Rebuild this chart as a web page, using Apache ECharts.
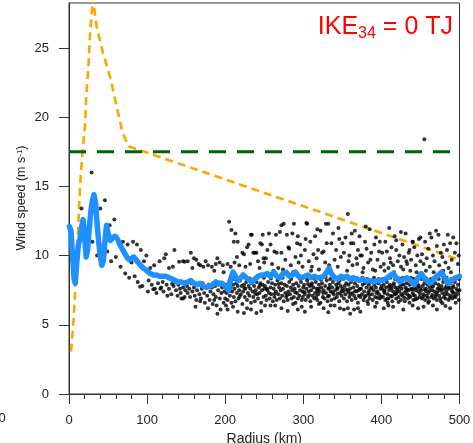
<!DOCTYPE html>
<html>
<head>
<meta charset="utf-8">
<script src="https://cdn.jsdelivr.net/npm/echarts@6/dist/echarts.min.js"></script>
<style>html,body{margin:0;padding:0;background:#fff}#c{width:473px;height:443px}</style>
</head>
<body>
<div id="c"></div>
<script>
// ---- data ----
const xTicks = [0, 100, 200, 300, 400, 500];
const yTicks = [0, 5, 10, 15, 20, 25];
const threshold34 = 17.5;           // 34-kt wind threshold (m/s)
const ikeLabel = ['IKE', '34', ' = 0 TJ'];
const yName = 'Wind speed (m s{sup|-1})';

// radial profile (orange dashed)
const profileR = [2.6, 5.5, 7.7, 9, 10.7, 14.1, 17.5, 20.5, 21.8, 24.8, 27, 29, 30.5, 35.5, 43.7, 52.6, 61, 68, 76, 500];
const profileV = [3.06, 5.1, 7.15, 9.2, 10.6, 15.0, 17.6, 19.4, 21.2, 23.6, 26.1, 27.5, 28.6, 26.5, 24.6, 22.9, 20.8, 19.0, 17.9, 9.7];

// azimuthal-mean wind (blue)
const meanR = [0.5,2.5,4.5,6.5,8,10,12,14,16,18,20,22,24,26,28,30,32,34,36,38,40,42,44,46,48,50,53,56,59,62,65,68,71,74,77,80,83,86,90,95,100,104,108,112,116,120,124,128,132,136,140,144,148,152,156,160,164,168,172,176,180,184,188,192,196,200,204,207,210,213,216,220,223,227,231,234,238,242,246,250,254,258,262,266,270,274,278,282,286,290,294,298,302,306,310,314,318,322,326,330,333,336,340,344,348,352,356,360,364,368,372,376,380,385,390,395,400,405,410,415,419,424,428,433,437,442,446,451,456,462,466,471,477,481,485,490,495,500];
const meanV = [12.1,11.8,10.0,8.3,8.0,9.5,10.8,11.2,12.0,12.6,11.4,9.9,10.5,12.0,13.2,14.0,14.4,13.8,12.3,11.0,10.0,9.3,9.6,11.0,12.2,11.6,11.1,11.3,11.4,11.2,10.8,10.5,10.2,9.9,9.7,9.8,9.9,9.7,9.4,9.1,8.9,8.7,8.6,8.6,8.5,8.5,8.5,8.4,8.3,8.2,8.1,8.1,8.0,8.1,8.2,8.0,7.9,8.0,7.8,7.7,7.8,7.9,8.1,8.0,8.0,7.8,7.5,8.3,8.8,8.5,8.2,8.4,8.6,8.4,8.2,8.1,8.3,8.5,8.6,8.6,8.7,8.5,8.8,8.5,8.4,8.7,8.8,8.5,8.6,8.8,8.5,8.4,8.5,8.6,8.4,8.5,8.4,8.4,8.5,8.8,9.1,8.7,8.4,8.3,8.5,8.4,8.5,8.3,8.4,8.3,8.2,8.3,8.2,8.2,8.1,8.2,8.2,8.3,8.5,8.7,8.4,8.1,8.3,8.4,8.2,7.9,8.3,8.7,8.3,8.0,8.2,8.5,8.8,8.4,8.0,8.2,8.4,8.5];

// individual observations [radius km, wind m/s] (black dots)
const obs = [
[16,13.4],[29,16.0],[40,13.4],[46,14.0],[58,12.6],[52,12.2],[30,11.0],[36,10.0],[49,10.3],[60,9.9],[54,9.6],[69,11.0],[75,10.8],[82,11.0],[87,10.8],[92,10.4],[99,10.0],[96,9.6],[72,8.7],[77,8.4],[84,8.5],[88,8.1],[94,7.8],[66,9.2],[80,9.5],[91,7.75],[101,7.4],
[104,9.1],[109,9.3],[116,9.6],[122,9.8],[128,9.1],[133,9.2],[141,9.56],[146,9.6],[124,10.1],[135,10.4],[148,9.56],
[102,8.2],[106,7.9],[110,7.6],[114,8.0],[118,7.7],[121,7.4],[125,7.9],[128,7.6],[131,7.2],[134,7.8],[137,7.5],[140,7.9],[143,7.3],[146,7.7],[148,7.0],[112,7.3],[126,7.1],[139,7.1],[144,6.9],[149,7.5],[132,7.95],[120,8.1],[108,7.56],[136,8.1],[117,7.6],[142,7.6],[146,6.9],
[152,9.6],[156,10.2],[160,9.8],[163,9.7],[168,9.3],[172,9.2],[178,9.3],[183,9.2],[188,9.4],[193,9.5],[197,9.3],[190,9.8],[175,9.6],[166,9.4],[158,9.1],[186,8.9],[198,8.8],
[151,7.8],[152,7.3],[154,7.6],[155,7.0],[157,8.0],[158,7.4],[160,7.7],[161,7.1],[163,6.8],[164,7.5],[166,7.9],[167,7.2],[169,6.9],[170,7.6],[171,8.0],[173,7.3],[174,6.6],[176,7.7],[177,7.1],[179,7.9],[180,6.8],[181,7.4],[183,7.7],[184,6.5],[185,7.2],[187,7.8],[188,7.0],[189,6.4],[191,7.5],[192,7.9],[193,6.9],[195,7.3],[196,7.7],[198,6.6],[199,7.4],[200,6.9],[162,6.3],[178,6.2],[194,6.1],[190,5.8],[168,6.7],[186,6.8],
[205,12.45],[208,11.85],[213,11.6],[211,11.0],[216,11.0],[222,10.2],[224,10.1],[233,11.5],[230,10.8],[238,10.2],[240,10.2],[245,10.9],[247,10.8],[248,11.5],[228,10.6],[234,11.5],[236,10.2],[242,9.6],[250,9.5],[203,9.4],[207,9.2],[212,9.5],[218,9.3],[226,9.2],[232,9.4],[244,9.1],[249,9.8],[215,9.9],
[201,7.9],[202,7.3],[203,6.8],[204,7.6],[205,8.1],[206,7.1],[207,7.7],[208,6.6],[209,7.4],[210,7.9],[211,7.0],[212,7.6],[213,6.7],[214,8.0],[215,7.3],[216,7.8],[217,6.9],[218,7.5],[219,8.2],[220,7.2],[221,7.8],[222,6.5],[223,7.4],[224,7.9],[225,7.0],[226,7.6],[227,8.1],[228,6.8],[229,7.3],[230,7.8],[231,7.1],[232,7.6],[233,6.6],[234,8.0],[235,7.4],[236,7.0],[237,7.8],[238,6.7],[239,7.5],[240,8.1],[241,7.2],[242,6.9],[243,7.7],[244,7.3],[245,8.0],[246,6.6],[247,7.5],[248,7.9],[249,7.0],[250,7.6],
[201,6.4],[203,6.1],[216,5.95],[224,5.85],[233,6.1],[240,5.85],[210,6.3],[228,6.2],[246,6.0],
[252,9.8],[256,11.6],[258,10.8],[260,9.4],[263,10.3],[265,11.5],[266,10.2],[268,9.1],[270,11.7],[272,12.2],[272,10.2],[275,12.3],[277,9.7],[279,11.5],[281,10.6],[282,10.5],[284,9.3],[286,11.6],[288,12.3],[290,9.9],[292,10.9],[294,9.5],[296,10.8],[297,10.0],[299,9.2],[262,8.9],[274,9.0],[287,8.8],[254,10.4],[293,11.4],
[251,7.8],[252,7.1],[253,6.8],[254,7.5],[255,8.1],[256,7.3],[257,6.9],[258,7.7],[259,7.2],[260,8.0],[261,6.7],[262,7.6],[263,7.0],[264,7.9],[265,7.4],[266,6.8],[267,8.2],[268,7.2],[269,7.7],[270,6.9],[271,7.5],[272,8.0],[273,7.1],[274,7.6],[275,6.7],[276,7.9],[277,7.3],[278,7.0],[279,7.8],[280,6.8],[281,7.4],[282,8.1],[283,7.2],[284,7.7],[285,6.9],[286,7.5],[287,7.9],[288,7.0],[289,7.6],[290,6.6],[291,8.0],[292,7.3],[293,6.9],[294,7.8],[295,7.1],[296,7.5],[297,8.1],[298,6.8],[299,7.4],[300,7.7],
[251,6.4],[258,6.4],[264,6.4],[272,6.2],[287,6.5],[293,6.1],[298,6.3],[280,6.0],
[302,10.4],[304,12.35],[305,12.3],[307,9.6],[309,11.0],[311,9.2],[313,10.1],[315,11.4],[317,9.8],[319,10.4],[320,9.0],[322,11.8],[324,10.2],[326,10.3],[328,9.5],[329,12.3],[330,10.9],[332,12.3],[333,9.3],[336,10.9],[338,11.6],[340,9.7],[342,10.4],[344,9.2],[346,11.2],[348,9.9],[350,10.9],[310,8.9],[335,8.9],[318,11.9],[345,12.0],[303,11.2],
[301,7.9],[302,7.2],[303,6.8],[304,7.6],[305,8.2],[306,7.0],[307,7.4],[308,7.8],[309,6.7],[310,7.5],[311,8.0],[312,7.1],[313,7.7],[314,6.9],[315,7.3],[316,8.1],[317,7.6],[318,6.8],[319,7.2],[320,7.9],[321,7.4],[322,6.6],[323,7.7],[324,8.0],[325,7.0],[326,7.5],[327,6.9],[328,7.8],[329,7.3],[330,8.2],[331,6.7],[332,7.6],[333,7.1],[334,7.9],[335,7.4],[336,6.8],[337,7.7],[338,8.1],[339,7.2],[340,6.9],[341,7.5],[342,7.9],[343,7.0],[344,7.6],[345,8.0],[346,6.7],[347,7.3],[348,7.8],[349,7.1],[350,7.6],[306,7.95],[318,7.45],[333,7.65],[344,7.25],
[302,5.95],[310,6.3],[320,6.5],[332,5.9],[335,6.4],[340,6.4],[326,6.2],[347,6.2],
[352,10.2],[354,11.3],[357,13.0],[358,9.6],[359,10.0],[361,10.9],[363,9.3],[364,10.9],[366,11.8],[368,9.8],[370,10.4],[372,11.4],[373,10.0],[375,10.0],[377,9.1],[379,11.0],[381,10.5],[383,9.5],[385,11.9],[387,10.2],[389,9.0],[391,10.8],[393,11.3],[395,9.7],[397,10.3],[399,9.2],[356,8.9],[376,8.8],[392,8.9],[362,11.6],[380,12.1],[398,11.0],[369,9.4],[386,9.7],
[351,7.4],[352,6.9],[353,7.8],[354,7.2],[355,8.0],[356,6.7],[357,7.5],[358,7.9],[359,7.0],[360,7.6],[361,8.1],[362,6.8],[363,7.3],[364,7.7],[365,7.1],[366,8.0],[367,6.9],[368,7.4],[369,7.8],[370,6.6],[371,7.5],[372,8.2],[373,7.0],[374,7.6],[375,7.2],[376,7.9],[377,6.8],[378,7.4],[379,8.0],[380,7.1],[381,7.7],[382,6.7],[383,7.3],[384,7.9],[385,6.9],[386,7.6],[387,8.1],[388,7.2],[389,6.8],[390,7.5],[391,7.9],[392,7.0],[393,7.7],[394,6.6],[395,7.4],[396,8.0],[397,7.2],[398,6.9],[399,7.6],[400,7.8],[358,7.35],[371,7.1],[384,7.45],[395,6.95],
[352,6.1],[357,6.2],[360,5.8],[365,6.1],[370,6.2],[373,5.95],[383,6.5],[392,6.3],
[401,10.2],[403,9.4],[405,11.0],[407,10.3],[409,9.1],[411,9.8],[413,10.6],[415,9.3],[417,11.4],[419,11.1],[419,10.4],[421,9.6],[423,10.0],[425,9.2],[427,10.8],[429,9.9],[431,11.6],[433,9.4],[435,10.2],[436,10.4],[438,9.7],[440,11.0],[442,10.6],[444,9.3],[446,10.0],[448,11.2],[450,9.6],[404,8.9],[416,8.8],[428,9.0],[437,8.9],[445,8.8],[410,12.0],[425,11.7],[412,9.5],[432,9.6],
[401,7.6],[402,7.0],[403,7.9],[404,7.3],[405,6.8],[406,7.7],[407,8.1],[408,7.2],[409,6.9],[410,7.5],[411,7.9],[412,7.1],[413,7.6],[414,6.7],[415,7.4],[416,8.0],[417,7.2],[418,7.7],[419,6.9],[420,7.5],[421,8.2],[422,7.0],[423,7.4],[424,7.8],[425,6.8],[426,7.6],[427,7.1],[428,7.9],[429,7.3],[430,6.7],[431,7.7],[432,8.0],[433,7.2],[434,6.9],[435,7.5],[436,7.9],[437,7.0],[438,7.6],[439,8.1],[440,7.3],[441,6.8],[442,7.7],[443,7.1],[444,7.5],[445,8.0],[446,6.9],[447,7.4],[448,7.8],[449,7.0],[450,7.6],[404,7.45],[412,7.75],[418,7.25],[426,7.95],[433,7.55],[441,7.15],[447,7.85],[408,6.6],[422,6.65],[436,6.6],
[409,6.4],[403,6.2],[415,6.3],[428,6.1],[440,6.4],[447,6.2],
[452,10.1],[454,9.4],[455,18.4],[456,11.0],[458,9.8],[460,10.5],[462,9.2],[464,11.3],[466,10.0],[468,9.6],[470,11.8],[471,10.7],[473,11.5],[474,9.3],[476,10.2],[478,9.9],[480,10.8],[482,9.5],[484,10.4],[486,9.1],[488,10.9],[490,9.7],[492,11.3],[494,10.2],[496,10.9],[498,9.4],[499,10.0],[457,8.9],[467,8.8],[479,8.9],[489,8.8],[450,11.3],[440,11.0],[462,11.6],[485,11.5],
[451,7.5],[452,6.9],[453,7.8],[454,7.2],[455,8.0],[456,6.8],[457,7.6],[458,7.1],[459,7.9],[460,7.3],[461,6.7],[462,7.7],[463,8.1],[464,7.0],[465,7.5],[466,7.8],[467,6.9],[468,7.4],[469,8.0],[470,7.2],[471,6.8],[472,7.6],[473,7.9],[474,7.1],[475,7.5],[476,6.7],[477,7.8],[478,7.3],[479,8.1],[480,7.0],[481,7.6],[482,6.9],[483,7.4],[484,7.9],[485,7.2],[486,6.8],[487,7.7],[488,8.0],[489,7.1],[490,7.5],[491,6.9],[492,7.8],[493,7.3],[494,8.1],[495,7.0],[496,7.6],[497,7.2],[498,7.9],[499,6.8],[500,7.5],[457,7.45],[465,7.15],[474,7.65],[483,7.75],[491,7.35],[460,6.6],[478,6.55],[495,6.6],
[454,6.3],[466,6.4],[482,6.35],[488,6.2],[471,6.1],
// additional dense-band observations
[205.5,7.45],[211.5,8.3],[218.5,7.05],[224.5,7.65],[231.5,8.35],[238.5,7.25],[244.5,7.85],[249.5,8.4],
[253.5,7.6],[258.5,8.35],[263.5,7.25],[268.5,7.95],[273.5,8.4],[279.5,7.15],[284.5,8.3],[289.5,7.35],[295.5,8.35],[299.5,7.0],
[301.5,7.35],[304.5,8.4],[307.5,7.15],[310.5,7.85],[313.5,8.35],[316.5,7.0],[319.5,7.6],[322.5,8.25],[325.5,7.3],[328.5,8.45],[331.5,7.05],[334.5,8.3],[337.5,7.35],[340.5,8.4],[343.5,7.7],[346.5,8.2],[349.5,7.45],
[351.5,8.3],[354.5,7.55],[357.5,8.4],[360.5,7.2],[363.5,8.3],[366.5,7.45],[369.5,8.35],[372.5,7.6],[375.5,8.4],[378.5,7.0],[381.5,8.3],[384.5,7.15],[387.5,7.7],[390.5,8.4],[393.5,7.3],[396.5,8.3],[399.5,7.05],
[401.5,8.3],[403.5,7.45],[405.5,8.35],[407.5,6.9],[409.5,7.75],[411.5,8.4],[413.5,7.05],[415.5,7.85],[417.5,8.3],[419.5,7.3],[421.5,7.65],[423.5,8.35],[425.5,7.2],[427.5,8.4],[429.5,6.95],[431.5,7.45],[433.5,8.3],[435.5,7.1],[437.5,8.4],[439.5,7.55],[441.5,8.3],[443.5,6.85],[445.5,7.65],[447.5,8.35],[449.5,7.25],
[451.5,8.3],[453.5,7.05],[455.5,7.55],[457.5,8.35],[459.5,6.95],[461.5,7.45],[463.5,8.3],[465.5,7.75],[467.5,8.4],[469.5,7.05],[471.5,7.35],[473.5,8.3],[475.5,6.9],[477.5,7.55],[479.5,8.35],[481.5,7.2],[483.5,8.4],[485.5,7.6],[487.5,6.95],[489.5,8.3],[491.5,7.7],[493.5,7.05],[495.5,8.35],[497.5,7.45],[499.5,8.3]
];

// ---- chart ----
const FONT = '"Liberation Sans", Arial, Helvetica, sans-serif';
const chart = echarts.init(document.getElementById('c'), null, {renderer: 'canvas'});
const zip = (a, b) => a.map((v, i) => [v, b[i]]);

chart.setOption({
  animation: false,
  backgroundColor: '#fff',
  textStyle: {fontFamily: FONT},
  grid: {left: 69, right: 13.5, top: 3, bottom: 49, show: true, borderColor: '#333', borderWidth: 1,
    containLabel: false, outerBoundsMode: 'none'},
  xAxis: {
    type: 'value', min: xTicks[0], max: xTicks[xTicks.length - 1], interval: 100,
    name: 'Radius (km)', nameLocation: 'middle', nameGap: 35,
    nameTextStyle: {fontSize: 14, color: '#222', fontFamily: FONT},
    axisLine: {lineStyle: {color: '#333', width: 1}},
    axisTick: {inside: false, length: 10, lineStyle: {color: '#333'}},
    minorTick: {show: true, splitNumber: 5, length: 5, lineStyle: {color: '#333'}},
    splitLine: {show: false},
    axisLabel: {fontSize: 13, color: '#222', margin: 20, fontFamily: FONT}
  },
  yAxis: {
    type: 'value', min: yTicks[0], max: 28.25, interval: 5,
    axisLine: {lineStyle: {color: '#333', width: 1}},
    axisTick: {inside: false, length: 10, lineStyle: {color: '#333'}},
    splitLine: {show: false},
    axisLabel: {fontSize: 13, color: '#222', margin: 20, showMaxLabel: false, fontFamily: FONT,
      formatter: v => (yTicks.indexOf(v) >= 0 ? String(v) : '')}
  },
  series: [
    {
      type: 'line', name: 'profile', data: zip(profileR, profileV), showSymbol: false, z: 2,
      lineStyle: {color: '#FFA500', width: 2.6, type: [8, 5]}
    },
    {
      type: 'line', name: 'threshold', data: [[xTicks[0], threshold34], [xTicks[xTicks.length - 1], threshold34]],
      showSymbol: false, z: 2, lineStyle: {color: '#006400', width: 3, type: [17, 11]}
    },
    {
      type: 'scatter', name: 'obs', data: obs, symbol: 'circle', symbolSize: 4, z: 3,
      itemStyle: {color: '#000'}
    },
    {
      type: 'line', name: 'mean', data: zip(meanR, meanV), showSymbol: false, z: 4,
      lineStyle: {color: '#1E90FF', width: 5.5, cap: 'round', join: 'round'}
    }
  ],
  graphic: [
    {
      type: 'text', right: 20, top: 14, z: 10,
      style: {
        text: '{a|' + ikeLabel[0] + '}{b|' + ikeLabel[1] + '}{a|' + ikeLabel[2] + '}',
        rich: {
          a: {fontSize: 25, fill: '#FF0000', fontFamily: FONT, lineHeight: 30, verticalAlign: 'middle'},
          b: {fontSize: 16, fill: '#FF0000', fontFamily: FONT, lineHeight: 30, verticalAlign: 'bottom', padding: [12, 0, 0, 0]}
        }
      }
    },
    {
      type: 'text', x: 22, y: 198, rotation: Math.PI / 2, z: 10,
      style: {
        text: yName, fontSize: 12.5, fill: '#222', fontFamily: FONT,
        align: 'center', verticalAlign: 'middle',
        rich: {sup: {fontSize: 8, fill: '#222', fontFamily: FONT, verticalAlign: 'top'}}
      }
    },
    {
      type: 'text', left: -16, top: 412,
      style: {text: '500', fontSize: 13, fill: '#222', fontFamily: FONT}
    }
  ]
});
</script>
</body>
</html>
